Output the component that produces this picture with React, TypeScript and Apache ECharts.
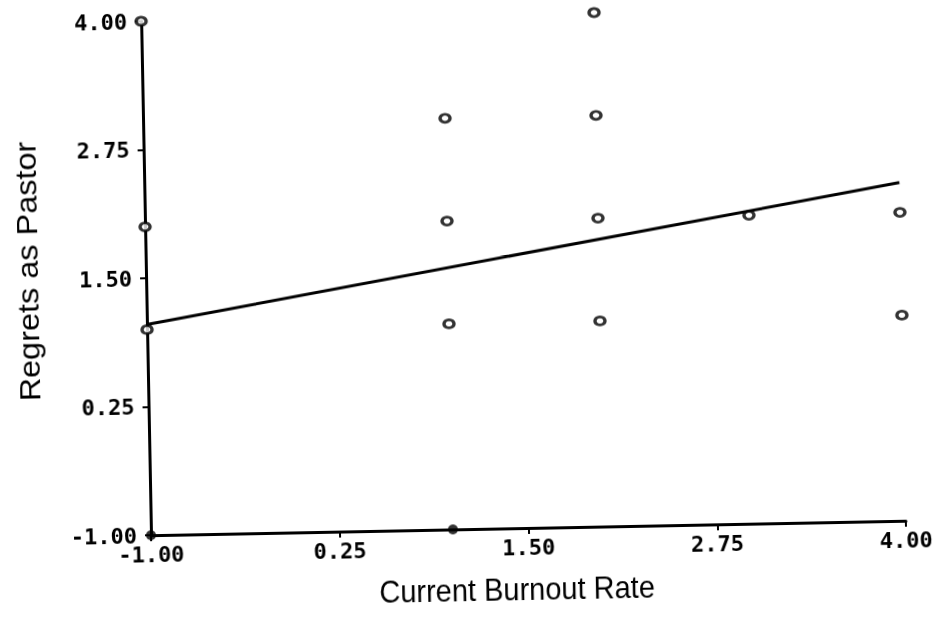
import React, { useEffect, useRef } from "react";
import * as echarts from "echarts";

// Observed points (Current Burnout Rate, Regrets as Pastor)
const burnoutRate = [-1, -1, -1, 1, 1, 1, 2, 2, 2, 2, 3, 4, 4];
const regrets = [4, 2, 1, 3, 2, 1, 4, 3, 2, 1, 2, 2, 1];
// Points lying on the x axis (drawn filled)
const axisBurnout = [-1, 1];
const axisRegrets = [-1, -1];
// Fitted regression line end points
const fitBurnout = [-1, 4];
const fitRegrets = [1.05, 2.29];
// Tick values shared by both axes
const tickValues = [-1, 0.25, 1.5, 2.75, 4];
const xTitle = "Current Burnout Rate";
const yTitle = "Regrets as Pastor";

export default function App() {
  const ref = useRef<HTMLDivElement>(null);
  useEffect(() => {
    const chart = echarts.init(ref.current!, null, { renderer: "svg" });
    const labelFont = {
      fontFamily: "'DejaVu Sans Mono', monospace",
      fontWeight: "bold" as const,
      fontSize: 22,
      color: "#000",
    };
    const axisCommon = {
      type: "value" as const,
      min: -1,
      max: 4,
      axisLine: { show: true, onZero: false, lineStyle: { color: "#000", width: 3 } },
      axisTick: {
        show: true,
        customValues: tickValues,
        length: 6,
        lineStyle: { color: "#000", width: 2 },
      },
      splitLine: { show: false },
    };
    chart.setOption({
      animation: false,
      backgroundColor: "#fff",
      grid: { left: 146, right: 36, top: 14, bottom: 92 },
      xAxis: {
        ...axisCommon,
        axisLabel: {
          customValues: tickValues,
          formatter: (v: number) => v.toFixed(2),
          margin: 8,
          ...labelFont,
        },
      },
      yAxis: {
        ...axisCommon,
        axisLabel: {
          customValues: tickValues,
          formatter: (v: number) => v.toFixed(2),
          margin: 14,
          ...labelFont,
        },
      },
      graphic: [
        {
          type: "text",
          x: 28,
          y: 262,
          rotation: Math.PI / 2,
          scaleX: 1.12,
          style: {
            text: yTitle,
            font: "29px 'Liberation Sans', Arial, sans-serif",
            textAlign: "center",
            textVerticalAlign: "middle",
            fill: "#000",
          },
        },
        {
          type: "text",
          x: 511,
          y: 588,
          scaleY: 1.1,
          style: {
            text: xTitle,
            font: "29px 'Liberation Sans', Arial, sans-serif",
            textAlign: "center",
            textVerticalAlign: "middle",
            fill: "#000",
          },
        },
      ],
      series: [
        {
          type: "line",
          data: fitBurnout.map((x, i) => [x, fitRegrets[i]]),
          symbol: "none",
          lineStyle: { color: "#000", width: 3 },
        },
        {
          type: "scatter",
          data: burnoutRate.map((x, i) => [x, regrets[i]]),
          symbol: "circle",
          symbolSize: [10, 8],
          clip: false,
          itemStyle: { color: "#fff", borderColor: "#000", borderWidth: 3 },
        },
        {
          type: "scatter",
          data: axisBurnout.map((x, i) => [x, axisRegrets[i]]),
          symbol: "circle",
          symbolSize: 10,
          clip: false,
          itemStyle: { color: "#000" },
        },
      ],
    });
    return () => chart.dispose();
  }, []);
  return (
    <div
      ref={ref}
      style={{
        position: "fixed",
        left: 0,
        top: 0,
        width: 937,
        height: 620,
        transform: "rotate(-1.1deg)",
        transformOrigin: "524px 271px",
        background: "#fff",
      }}
    />
  );
}
